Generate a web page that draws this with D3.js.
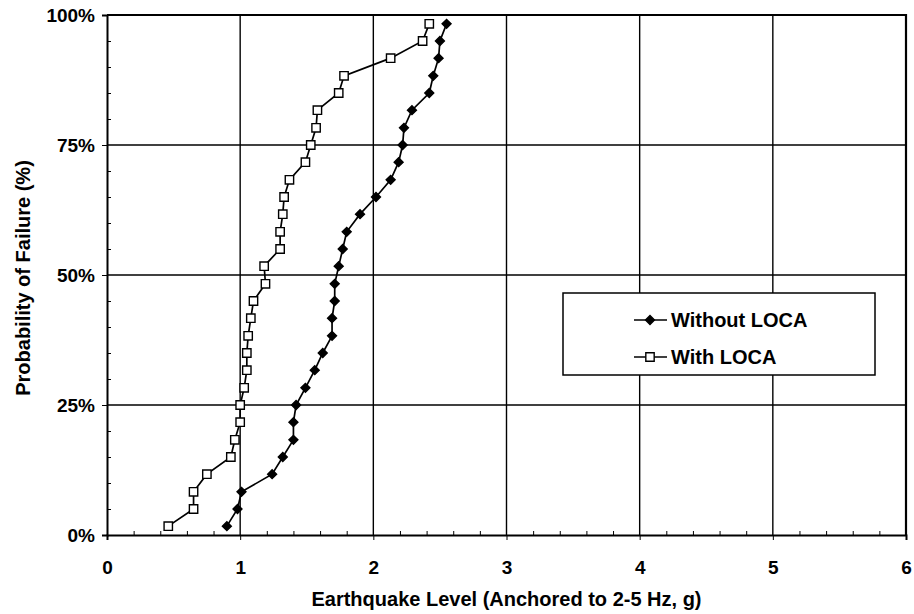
<!DOCTYPE html>
<html>
<head>
<meta charset="utf-8">
<script src="https://cdn.jsdelivr.net/npm/d3@7/dist/d3.min.js"></script>
<style>
  html, body { margin: 0; padding: 0; background: #fff; }
  svg { display: block; }
  text { font-family: "Liberation Sans", Arial, sans-serif; font-weight: bold; fill: #000; }
</style>
</head>
<body>
<svg id="chart" width="914" height="614"></svg>
<script>
// Probability of failure (%) at each plotted point (30 ranked samples per curve)
const probability = [1.7, 5.0, 8.3, 11.7, 15.0, 18.3, 21.7, 25.0, 28.3, 31.7,
                     35.0, 38.3, 41.7, 45.0, 48.3, 51.7, 55.0, 58.3, 61.7, 65.0,
                     68.3, 71.7, 75.0, 78.3, 81.7, 85.0, 88.3, 91.7, 95.0, 98.3];

// Earthquake level (g) for each curve
const withoutLoca = [0.90, 0.98, 1.01, 1.24, 1.32, 1.40, 1.40, 1.42, 1.49, 1.56,
                     1.62, 1.69, 1.69, 1.71, 1.71, 1.74, 1.77, 1.80, 1.90, 2.02,
                     2.13, 2.19, 2.22, 2.23, 2.29, 2.42, 2.45, 2.49, 2.50, 2.55];
const withLoca    = [0.46, 0.65, 0.65, 0.75, 0.93, 0.96, 1.00, 1.00, 1.03, 1.05,
                     1.05, 1.06, 1.08, 1.10, 1.19, 1.18, 1.30, 1.30, 1.32, 1.33,
                     1.37, 1.49, 1.53, 1.57, 1.58, 1.74, 1.78, 2.13, 2.37, 2.42];

const seriesNames = ["Without LOCA", "With LOCA"];
const xTicks = [0, 1, 2, 3, 4, 5, 6];
const yTicks = [0, 25, 50, 75, 100];
const xTitle = "Earthquake Level (Anchored to 2-5 Hz, g)";
const yTitle = "Probability of Failure (%)";

const svg = d3.select("#chart");
const plot = { left: 107, right: 906, top: 15, bottom: 535 };

const x = d3.scaleLinear().domain([0, 6]).range([plot.left, plot.right]);
const y = d3.scaleLinear().domain([0, 100]).range([plot.bottom, plot.top]);

// gridlines
const grid = svg.append("g").attr("stroke", "#000").attr("stroke-width", 1.4);
xTicks.slice(1).forEach(v => grid.append("line")
  .attr("x1", x(v)).attr("x2", x(v)).attr("y1", plot.top).attr("y2", plot.bottom));
yTicks.slice(1).forEach(v => grid.append("line")
  .attr("x1", plot.left).attr("x2", plot.right).attr("y1", y(v)).attr("y2", y(v)));

// plot border (top and right edges)
svg.append("path")
  .attr("d", `M${plot.left},${plot.top}H${plot.right}V${plot.bottom}`)
  .attr("fill", "none").attr("stroke", "#000").attr("stroke-width", 2.2);

// x axis: major ticks outward, minor ticks inward every 0.2
const xAxis = svg.append("g").attr("transform", `translate(0,${plot.bottom})`)
  .call(d3.axisBottom(x).tickValues(xTicks).tickSize(5).tickPadding(21).tickFormat(d3.format("d")));
xAxis.select(".domain").attr("stroke-width", 2);
xAxis.selectAll("text").style("font-size", "19px").attr("font-family", null);
svg.append("g").attr("transform", `translate(0,${plot.bottom})`)
  .call(d3.axisTop(x).tickValues(d3.range(0, 6.01, 0.2).filter(v => Math.abs(v - Math.round(v)) > 1e-6))
    .tickSize(4).tickFormat(""))
  .call(g => g.select(".domain").remove());

// y axis: major ticks outward, minor ticks inward every 5%
const yAxis = svg.append("g").attr("transform", `translate(${plot.left},0)`)
  .call(d3.axisLeft(y).tickValues(yTicks).tickSize(5).tickPadding(7).tickFormat(d => d + "%"));
yAxis.select(".domain").attr("stroke-width", 2);
yAxis.selectAll("text").style("font-size", "19px").attr("font-family", null);
svg.append("g").attr("transform", `translate(${plot.left},0)`)
  .call(d3.axisRight(y).tickValues(d3.range(5, 100, 5).filter(v => v % 25 !== 0))
    .tickSize(4).tickFormat(""))
  .call(g => g.select(".domain").remove());

// axis titles
svg.append("text").attr("x", (plot.left + plot.right) / 2).attr("y", 606)
  .attr("text-anchor", "middle").style("font-size", "20px").text(xTitle);
svg.append("text").attr("transform", `translate(30,${(plot.top + plot.bottom) / 2 + 3}) rotate(-90)`)
  .attr("text-anchor", "middle").style("font-size", "20px").text(yTitle);

// curves
const line = d3.line().x(d => x(d[0])).y(d => y(d[1]));
const diamond = d3.symbol().type(d3.symbolSquare).size(40);   // drawn rotated 45°
const square = d3.symbol().type(d3.symbolSquare).size(70);

function drawSeries(values, marker, fill, rot) {
  const pts = values.map((v, i) => [v, probability[i]]);
  const g = svg.append("g");
  g.append("path").datum(pts).attr("d", line)
    .attr("fill", "none").attr("stroke", "#000").attr("stroke-width", 1.7);
  g.selectAll("path.m").data(pts).join("path").attr("class", "m")
    .attr("transform", d => `translate(${x(d[0])},${y(d[1])}) rotate(${rot})`)
    .attr("d", marker).attr("fill", fill).attr("stroke", "#000").attr("stroke-width", 1.4);
}
drawSeries(withoutLoca, diamond, "#000", 45);
drawSeries(withLoca, square, "#fff", 0);

// legend
const lg = svg.append("g");
lg.append("rect").attr("x", 563).attr("y", 293).attr("width", 312).attr("height", 82)
  .attr("fill", "#fff").attr("stroke", "#000").attr("stroke-width", 1.5);
const markers = [[diamond, "#000", 45], [square, "#fff", 0]];
seriesNames.forEach((name, i) => {
  const cy = 320 + i * 37;
  lg.append("line").attr("x1", 634).attr("x2", 667).attr("y1", cy).attr("y2", cy)
    .attr("stroke", "#000").attr("stroke-width", 1.7);
  lg.append("path").attr("transform", `translate(650,${cy}) rotate(${markers[i][2]})`)
    .attr("d", markers[i][0]).attr("fill", markers[i][1]).attr("stroke", "#000").attr("stroke-width", 1.4);
  lg.append("text").attr("x", 671).attr("y", cy + 7).style("font-size", "20px").text(name);
});
</script>
</body>
</html>
